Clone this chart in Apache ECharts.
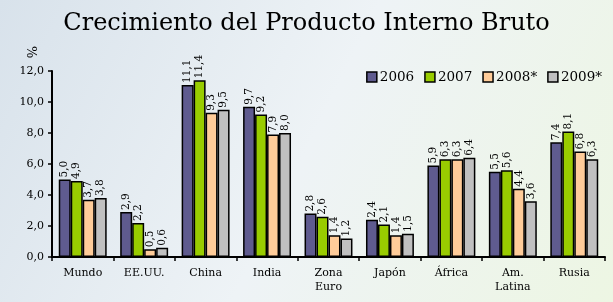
<!DOCTYPE html>
<html>
<head>
<meta charset="utf-8">
<script src="https://cdn.jsdelivr.net/npm/echarts@6/dist/echarts.min.js"></script>
<style>
  html, body { margin: 0; padding: 0; }
  #chart { width: 613px; height: 302px; }
</style>
</head>
<body>
<div id="chart"></div>
<script>
const regions = ['Mundo', 'EE.UU.', 'China', 'India', 'Zona\nEuro', 'Japón', 'África', 'Am.\nLatina', 'Rusia'];
const years = ['2006', '2007', '2008*', '2009*'];
const gdp2006 = [5.0, 2.9, 11.1, 9.7, 2.8, 2.4, 5.9, 5.5, 7.4];
const gdp2007 = [4.9, 2.2, 11.4, 9.2, 2.6, 2.1, 6.3, 5.6, 8.1];
const gdp2008 = [3.7, 0.5, 9.3, 7.9, 1.4, 1.4, 6.3, 4.4, 6.8];
const gdp2009 = [3.8, 0.6, 9.5, 8.0, 1.2, 1.5, 6.4, 3.6, 6.3];
const yTicks = [0, 2, 4, 6, 8, 10, 12];

const colors = ['#5f5b8f', '#99cc00', '#ffcc99', '#c0c0c0'];
const serif = '"DejaVu Serif", "Liberation Serif", serif';
const comma = v => v.toFixed(1).replace('.', ',');

const chart = echarts.init(document.getElementById('chart'));

const makeSeries = (name, data, i) => ({
  name,
  type: 'bar',
  data,
  barGap: '0%',
  barCategoryGap: '22%',
  itemStyle: { color: colors[i], borderColor: '#000', borderWidth: 1.5 },
  label: {
    show: true,
    position: 'top',
    rotate: 90,
    align: 'left',
    verticalAlign: 'middle',
    distance: 2,
    fontFamily: serif,
    fontSize: 10.5,
    color: '#000',
    formatter: p => comma(p.value)
  }
});

chart.setOption({
  backgroundColor: {
    type: 'linear', x: 0, y: 0, x2: 1, y2: 1,
    colorStops: [
      { offset: 0, color: '#d8e2eb' },
      { offset: 0.5, color: '#eef3f6' },
      { offset: 1, color: '#edf6e3' }
    ]
  },
  color: colors,
  title: {
    text: 'Crecimiento del Producto Interno Bruto',
    left: 'center',
    top: 7,
    textStyle: { fontFamily: serif, fontSize: 24, fontWeight: 'normal', color: '#000' }
  },
  graphic: [{
    type: 'text',
    left: 27,
    top: 46,
    rotation: Math.PI / 2,
    style: { text: '%', font: '13px ' + serif, fill: '#000' }
  }],
  legend: {
    data: years,
    icon: 'rect',
    right: 6,
    top: 65,
    itemWidth: 10,
    itemHeight: 10,
    itemGap: 10,
    textStyle: { fontFamily: serif, fontSize: 13.5, color: '#000', padding: [0, 0, 0, -2] },
    itemStyle: { borderColor: '#000', borderWidth: 1.5 }
  },
  grid: { left: 52, right: 8, top: 71, bottom: 45 },
  xAxis: {
    type: 'category',
    data: regions,
    axisLine: { lineStyle: { color: '#000', width: 2 } },
    axisTick: { show: true, length: 4, lineStyle: { color: '#000', width: 1.5 } },
    axisLabel: { fontFamily: serif, fontSize: 11, color: '#000', margin: 9, lineHeight: 14, interval: 0 }
  },
  yAxis: {
    type: 'value',
    min: yTicks[0],
    max: yTicks[yTicks.length - 1],
    interval: 2,
    splitLine: { show: false },
    axisLine: { show: true, lineStyle: { color: '#000', width: 2 } },
    axisTick: { show: true, length: 4, lineStyle: { color: '#000', width: 1.5 } },
    axisLabel: { fontFamily: serif, fontSize: 11, color: '#000', margin: 8, formatter: v => comma(v) }
  },
  series: [
    makeSeries(years[0], gdp2006, 0),
    makeSeries(years[1], gdp2007, 1),
    makeSeries(years[2], gdp2008, 2),
    makeSeries(years[3], gdp2009, 3)
  ]
});
</script>
</body>
</html>
